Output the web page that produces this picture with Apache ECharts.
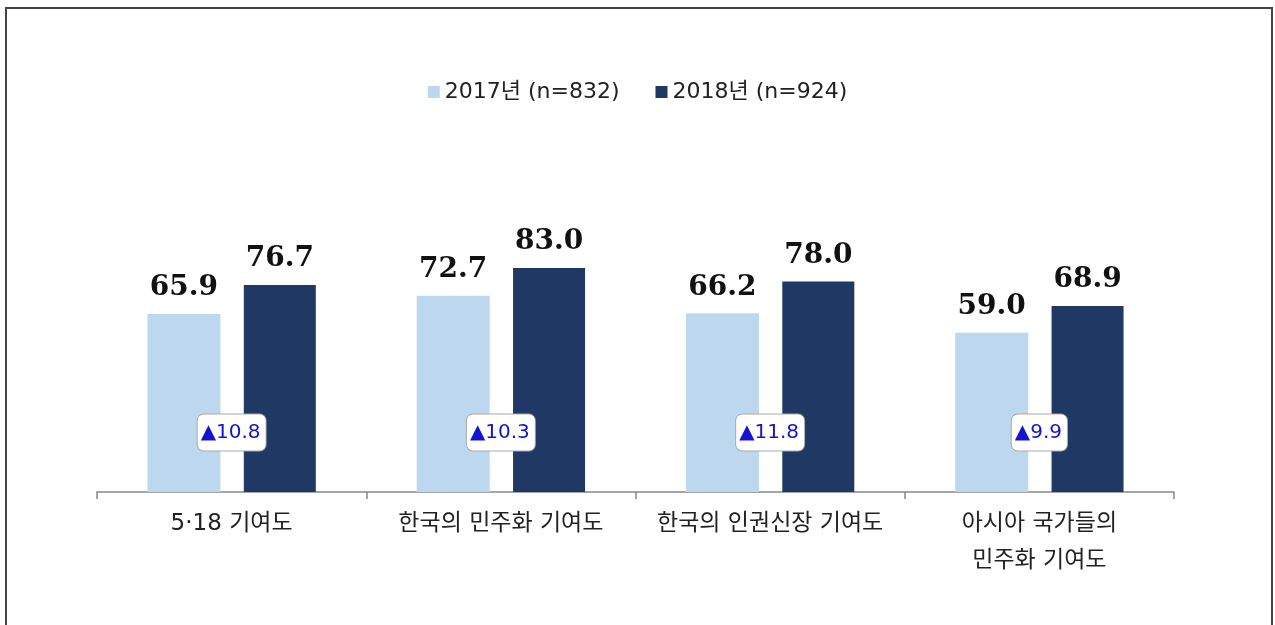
<!DOCTYPE html>
<html>
<head>
<meta charset="utf-8">
<script src="https://cdn.jsdelivr.net/npm/echarts@6/dist/echarts.min.js"></script>
<style>
  html, body { margin: 0; padding: 0; background: #fff; }
  #chart { width: 1275px; height: 625px; }
</style>
</head>
<body>
<div id="chart"></div>
<script>
const categories = ['5·18 기여도', '한국의 민주화 기여도', '한국의 인권신장 기여도', '아시아 국가들의\n민주화 기여도']
const seriesNames = ['2017년 (n=832)', '2018년 (n=924)']
const values2017 = [65.9, 72.7, 66.2, 59.0]
const values2018 = [76.7, 83.0, 78.0, 68.9]
const diffs = [10.8, 10.3, 11.8, 9.9]

const BOX_Y = 22
const font = '"DejaVu Sans", "Noto Sans CJK KR", sans-serif'

const chart = echarts.init(document.getElementById('chart'))

const valueLabel = {
  show: true,
  position: 'top',
  distance: 12,
  color: '#111',
  fontFamily: '"DejaVu Serif", serif',
  fontWeight: 'bold',
  fontSize: 28,
  formatter: p => p.value.toFixed(1)
}

const option = {
  backgroundColor: '#fff',
  animation: false,
  graphic: [{
    type: 'rect',
    shape: { x: 6, y: 8, width: 1266, height: 640 },
    style: { fill: 'none', stroke: '#444', lineWidth: 2 },
    silent: true
  }],
  legend: {
    top: 76,
    left: 'center',
    itemWidth: 12,
    itemHeight: 12,
    itemGap: 36,
    icon: 'rect',
    textStyle: { fontFamily: font, fontSize: 22, color: '#222' },
    data: seriesNames
  },
  grid: { left: 97, right: 101, top: 222, bottom: 133 },
  xAxis: {
    type: 'category',
    data: categories,
    axisLine: { lineStyle: { color: '#888', width: 1.5 } },
    axisTick: { show: true, length: 7, lineStyle: { color: '#888', width: 1.5 } },
    axisLabel: {
      interval: 0,
      margin: 14,
      fontFamily: font,
      fontSize: 23,
      lineHeight: 37,
      color: '#222'
    }
  },
  yAxis: {
    type: 'value',
    min: 0,
    max: 100,
    show: false,
    splitLine: { show: false }
  },
  series: [
    {
      name: seriesNames[0],
      type: 'bar',
      data: values2017,
      barWidth: 73,
      barGap: '32%',
      itemStyle: { color: '#bdd7ee' },
      label: valueLabel
    },
    {
      name: seriesNames[1],
      type: 'bar',
      data: values2018,
      barWidth: 72,
      itemStyle: { color: '#1f3864' },
      label: valueLabel
    },
    {
      type: 'scatter',
      data: diffs.map((d, i) => ({ value: [i, BOX_Y], diff: d })),
      symbolSize: 0,
      z: 5,
      itemStyle: { opacity: 1 },
      label: {
        show: true,
        position: 'inside',
        formatter: p => '▲' + p.data.diff.toFixed(1),
        color: '#1414d0',
        fontFamily: font,
        fontSize: 20,
        backgroundColor: '#fff',
        borderColor: '#aaa',
        borderWidth: 1,
        borderRadius: 6,
        padding: [8, 5, 8, 3]
      }
    }
  ]
}

chart.setOption(option)
</script>
</body>
</html>
